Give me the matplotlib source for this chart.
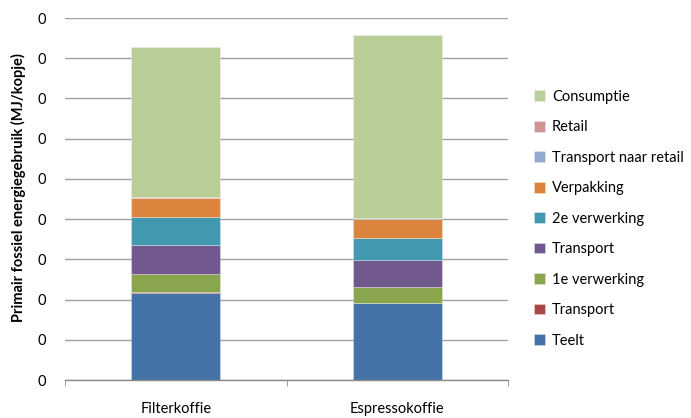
import matplotlib
matplotlib.use("Agg")
import matplotlib.pyplot as plt
from matplotlib.ticker import FormatStrFormatter, FixedLocator
import numpy as np

plt.rcParams['font.family'] = ['Lato', 'DejaVu Sans']

categories = ["Filterkoffie", "Espressokoffie"]
series_names = ["Teelt", "Transport", "1e verwerking", "Transport", "2e verwerking",
                "Verpakking", "Transport naar retail", "Retail", "Consumptie"]
teelt = [0.1085, 0.096]
transport1 = [0.0003, 0.0003]
verwerking1 = [0.023, 0.0195]
transport2 = [0.0355, 0.0335]
verwerking2 = [0.035, 0.0275]
verpakking = [0.0235, 0.0235]
transport_retail = [0.0005, 0.0005]
retail = [0.001, 0.001]
consumptie = [0.187, 0.2275]
series_values = [teelt, transport1, verwerking1, transport2, verwerking2,
                 verpakking, transport_retail, retail, consumptie]
colors = ["#4572A7", "#AA4643", "#89A54E", "#71588F", "#4198AF",
          "#DB843D", "#93A9CF", "#D19392", "#B9CD96"]
yticks = [0.0, 0.05, 0.10, 0.15, 0.20, 0.25, 0.30, 0.35, 0.40, 0.45]

fig = plt.figure(figsize=(6.91, 4.18), dpi=100)
ax = fig.add_axes([65/691, 38/418, 443/691, 362/418])

x = np.arange(len(categories))
bottom = np.zeros(len(categories))
handles = []
for name, vals, c in zip(series_names, series_values, colors):
    h = ax.bar(x, vals, width=0.4, bottom=bottom, color=c, label=name,
               edgecolor=(1, 1, 1, 0.35), linewidth=0.6, zorder=3)
    handles.append(h)
    bottom += np.array(vals)

ax.set_xlim(-0.5, 1.5)
ax.set_ylim(0, 0.45)
ax.set_yticks(yticks)
ax.yaxis.set_major_formatter(FormatStrFormatter('%.0f'))
ax.grid(axis='y', color='#a0a0a0', linewidth=1.0, zorder=0)
for s in ['top', 'right', 'left']:
    ax.spines[s].set_visible(False)
ax.spines['bottom'].set_color('#8c8c8c')
ax.spines['bottom'].set_linewidth(1.0)
ax.spines['bottom'].set_zorder(4)

ax.set_xticks(x)
ax.set_xticklabels(categories)
ax.xaxis.set_minor_locator(FixedLocator([-0.5, 0.5, 1.5]))
ax.tick_params(axis='x', which='major', length=0, pad=16, labelsize=10.5)
ax.tick_params(axis='x', which='minor', length=4, color='#8c8c8c')
ax.tick_params(axis='y', length=0, pad=14, labelsize=10.5)

ax.set_ylabel("Primair fossiel energiegebruik (MJ/kopje)", fontsize=10.5,
              fontweight='bold', va='center', ha='center')
ax.yaxis.set_label_coords((18 - 65) / 443, (380 - 187.5) / 362)

leg = fig.legend(handles[::-1], [h.get_label() for h in handles[::-1]],
                 loc='upper left', bbox_to_anchor=(528/691, 1 - 84/418),
                 frameon=False, fontsize=10.5, handlelength=0.75, handleheight=0.75,
                 handletextpad=0.5, labelspacing=1.13, borderaxespad=0)

fig.savefig("out.png", dpi=100)
